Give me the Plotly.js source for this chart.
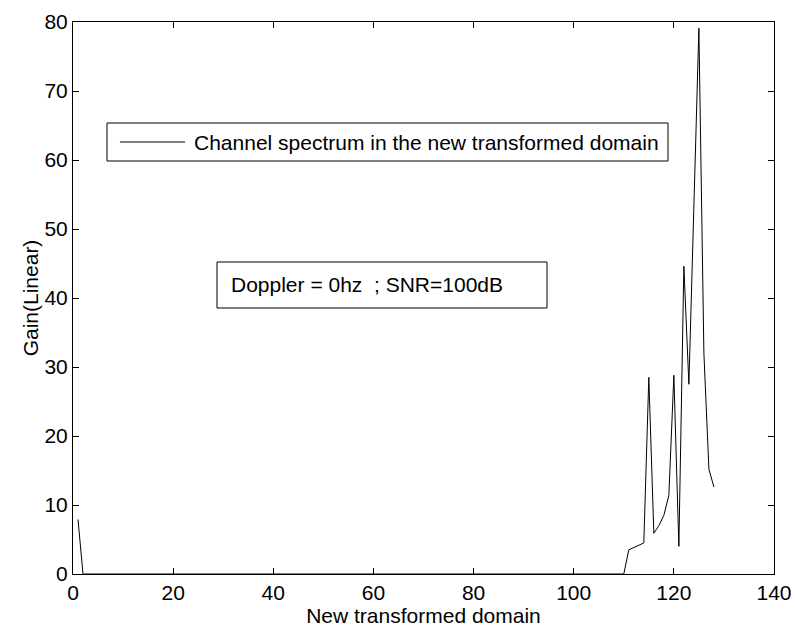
<!DOCTYPE html>
<html>
<head>
<meta charset="utf-8">
<script src="https://cdn.plot.ly/plotly-3.0.1.min.js"></script>
<style>html,body{margin:0;padding:0;background:#fff;}#chart{width:795px;height:629px;}</style>
</head>
<body>
<div id="chart"></div>
<script>
// Sample index (new transformed domain)
const sampleIndex = [
  1, 2, 3, 4, 5, 6, 7, 8, 9, 10,
  11, 12, 13, 14, 15, 16, 17, 18, 19, 20,
  21, 22, 23, 24, 25, 26, 27, 28, 29, 30,
  31, 32, 33, 34, 35, 36, 37, 38, 39, 40,
  41, 42, 43, 44, 45, 46, 47, 48, 49, 50,
  51, 52, 53, 54, 55, 56, 57, 58, 59, 60,
  61, 62, 63, 64, 65, 66, 67, 68, 69, 70,
  71, 72, 73, 74, 75, 76, 77, 78, 79, 80,
  81, 82, 83, 84, 85, 86, 87, 88, 89, 90,
  91, 92, 93, 94, 95, 96, 97, 98, 99, 100,
  101, 102, 103, 104, 105, 106, 107, 108, 109, 110,
  111, 112, 113, 114, 115, 116, 117, 118, 119, 120,
  121, 122, 123, 124, 125, 126, 127, 128
];
// Channel gain (linear)
const channelGain = [
  7.9, 0, 0, 0, 0, 0, 0, 0, 0, 0,
  0, 0, 0, 0, 0, 0, 0, 0, 0, 0,
  0, 0, 0, 0, 0, 0, 0, 0, 0, 0,
  0, 0, 0, 0, 0, 0, 0, 0, 0, 0,
  0, 0, 0, 0, 0, 0, 0, 0, 0, 0,
  0, 0, 0, 0, 0, 0, 0, 0, 0, 0,
  0, 0, 0, 0, 0, 0, 0, 0, 0, 0,
  0, 0, 0, 0, 0, 0, 0, 0, 0, 0,
  0, 0, 0, 0, 0, 0, 0, 0, 0, 0,
  0, 0, 0, 0, 0, 0, 0, 0, 0, 0,
  0, 0, 0, 0, 0, 0, 0, 0, 0, 0,
  3.5, 3.8, 4.2, 4.5, 28.5, 5.9, 7.0, 8.5, 11.4, 28.8,
  4.0, 44.6, 27.5, 53.3, 79.1, 32.0, 15.2, 12.6
];
const xTicks = [0, 20, 40, 60, 80, 100, 120, 140];
const yTicks = [0, 10, 20, 30, 40, 50, 60, 70, 80];
const seriesName = 'Channel spectrum in the new transformed domain';
const infoText = 'Doppler = 0hz  ; SNR=100dB';

const FONT = 'Liberation Sans, Arial, sans-serif';
const FS = 21;

const trace = {
  x: sampleIndex, y: channelGain, type: 'scatter', mode: 'lines',
  name: seriesName, line: {color: '#000', width: 1}, showlegend: false
};

const axisCommon = {
  showline: true, linecolor: '#000', linewidth: 1, mirror: 'ticks',
  ticks: 'inside', ticklen: 6, tickcolor: '#000', tickwidth: 1,
  showgrid: false, zeroline: false,
  tickfont: {family: FONT, size: FS, color: '#000'}
};

const layout = {
  width: 795, height: 629,
  margin: {l: 73, r: 21, t: 22, b: 55},
  paper_bgcolor: '#fff', plot_bgcolor: '#fff',
  font: {family: FONT, color: '#000'},
  showlegend: false,
  xaxis: Object.assign({}, axisCommon, {
    range: [0, 140], tickmode: 'array', tickvals: xTicks,
    title: {text: 'New transformed domain', font: {family: FONT, size: FS, color: '#000'}, standoff: 1}
  }),
  yaxis: Object.assign({}, axisCommon, {
    range: [0, 80], tickmode: 'array', tickvals: yTicks,
    title: {text: 'Gain(Linear)', font: {family: FONT, size: FS, color: '#000'}, standoff: 0}
  }),
  shapes: [
    {type: 'rect', xref: 'paper', yref: 'paper', x0: 0.0485, x1: 0.8488, y0: 0.7482, y1: 0.8170,
     line: {color: '#000', width: 1}, fillcolor: '#fff', layer: 'above'},
    {type: 'line', xref: 'paper', yref: 'paper', x0: 0.067, x1: 0.1598, y0: 0.7826, y1: 0.7826,
     line: {color: '#000', width: 1}, layer: 'above'},
    {type: 'rect', xref: 'paper', yref: 'paper', x0: 0.2054, x1: 0.6762, y0: 0.4819, y1: 0.5652,
     line: {color: '#000', width: 1}, fillcolor: '#fff', layer: 'above'}
  ],
  annotations: [
    {xref: 'paper', yref: 'paper', x: 0.1698, y: 0.7826, xanchor: 'left', yanchor: 'middle',
     text: seriesName, showarrow: false, font: {family: FONT, size: FS, color: '#000'}},
    {xref: 'paper', yref: 'paper', x: 0.2225, y: 0.5236, xanchor: 'left', yanchor: 'middle',
     text: infoText, showarrow: false, font: {family: FONT, size: FS, color: '#000'}}
  ]
};

Plotly.newPlot('chart', [trace], layout, {staticPlot: true, displayModeBar: false});
</script>
</body>
</html>
